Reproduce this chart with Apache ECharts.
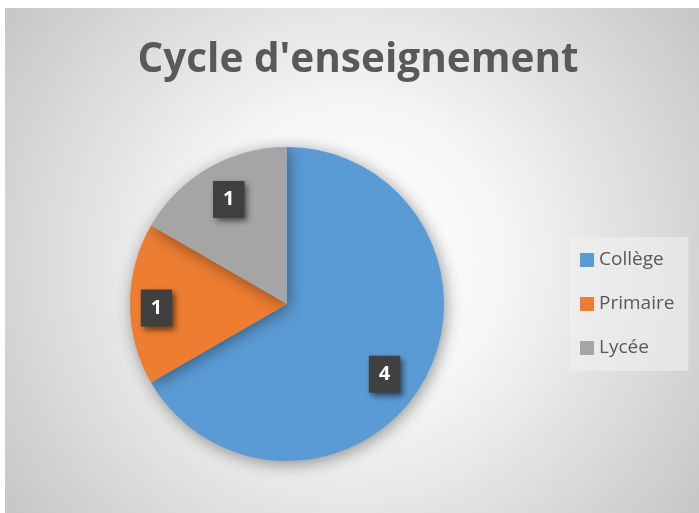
<!DOCTYPE html>
<html>
<head>
<meta charset="utf-8">
<script src="https://cdn.jsdelivr.net/npm/echarts@6/dist/echarts.min.js"></script>
<style>
  html, body { margin: 0; padding: 0; background: #fff; }
  #chart { position: absolute; left: 5px; top: 8px; width: 694px; height: 505px; }
</style>
</head>
<body>
<div id="chart"></div>
<script>
// chart data
var categories = ['Collège', 'Primaire', 'Lycée']
var values = [4, 1, 1]
var colors = ['#5B9BD5', '#ED7D31', '#A5A5A5']
// small nudges so the value boxes sit where Excel put them
var labelOffsets = [[-12, 7], [-4, 4], [5, 5]]

var chart = echarts.init(document.getElementById('chart'))

var pieData = categories.map(function (name, i) {
  return { name: name, value: values[i], itemStyle: { color: colors[i] } }
})

// overlay used only to place the value labels further out than the default
var labelData = categories.map(function (name, i) {
  return { name: name, value: values[i], label: { offset: labelOffsets[i] } }
})

chart.setOption({
  backgroundColor: {
    type: 'radial',
    x: 0.5,
    y: 0.5,
    r: 0.85,
    colorStops: [
      { offset: 0, color: '#ffffff' },
      { offset: 0.35, color: '#f6f6f6' },
      { offset: 1, color: '#c6c6c6' }
    ]
  },
  title: {
    text: "Cycle d'enseignement",
    left: 348,
    textAlign: 'center',
    top: 27,
    textStyle: {
      fontFamily: 'Open Sans',
      fontWeight: 'bold',
      fontSize: 40.5,
      color: '#595959'
    }
  },
  legend: {
    orient: 'vertical',
    left: 565,
    top: 229,
    data: categories,
    icon: 'rect',
    itemWidth: 14,
    itemHeight: 14,
    itemGap: 24,
    padding: [13, 14, 13, 10],
    backgroundColor: 'rgba(240,240,240,0.6)',
    textStyle: {
      fontFamily: 'Open Sans',
      fontSize: 19,
      lineHeight: 20,
      color: '#595959'
    }
  },
  series: [
    {
      type: 'pie',
      center: [282, 296],
      radius: [0, 157],
      startAngle: 90,
      clockwise: true,
      silent: true,
      label: { show: false },
      labelLine: { show: false },
      itemStyle: {
        shadowBlur: 16,
        shadowColor: 'rgba(0,0,0,0.4)',
        shadowOffsetX: 2,
        shadowOffsetY: 3
      },
      data: pieData
    },
    {
      type: 'pie',
      center: [282, 296],
      radius: [90, 157],
      startAngle: 90,
      clockwise: true,
      silent: true,
      itemStyle: { color: 'rgba(0,0,0,0)' },
      labelLine: { show: false },
      label: {
        show: true,
        position: 'inside',
        formatter: '{c}',
        fontFamily: 'Open Sans',
        fontWeight: 'bold',
        fontSize: 20,
        color: '#ffffff',
        backgroundColor: '#404040',
        padding: [9, 10, 8, 10],
        shadowBlur: 6,
        shadowColor: 'rgba(0,0,0,0.55)',
        shadowOffsetX: 3,
        shadowOffsetY: 3
      },
      data: labelData
    }
  ]
})
</script>
</body>
</html>
